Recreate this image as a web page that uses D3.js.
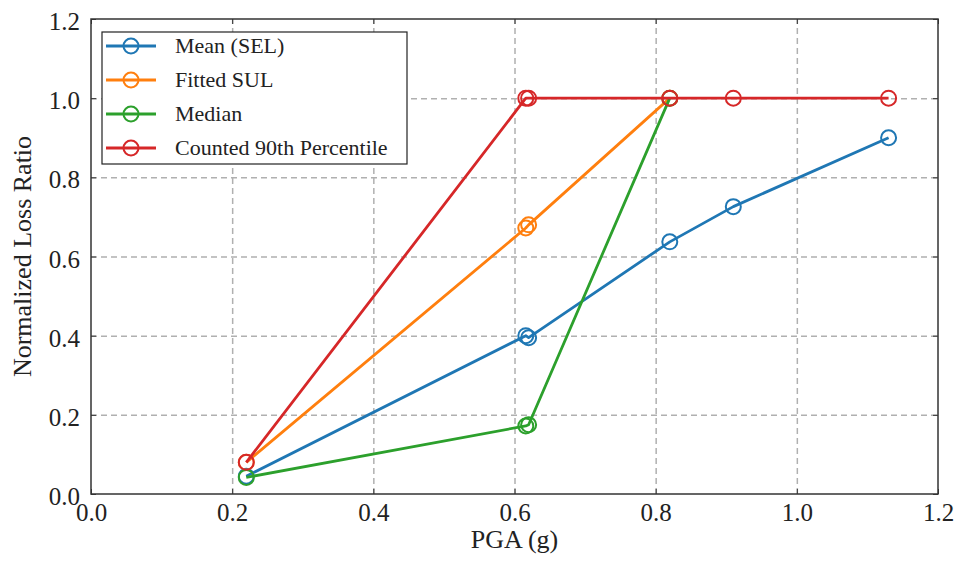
<!DOCTYPE html>
<html>
<head>
<meta charset="utf-8">
<script src="https://cdn.jsdelivr.net/npm/d3@7"></script>
<style>
  body { margin: 0; background: #fff; }
  svg { display: block; }
  svg text { font-family: "Liberation Serif", "DejaVu Serif", serif; }
  .grid line { stroke: #b0b0b0; stroke-width: 1.5; stroke-dasharray: 6,4; }
  .grid path { display: none; }
  .ax path { display: none; }
  .ax line { stroke: #333; stroke-width: 1; }
  .ax text { font-family: "Liberation Serif", serif; font-size: 25px; fill: #222; }
</style>
</head>
<body>
<div id="c"></div>
<script>
"use strict";

// values
const seriesNames = ["Mean (SEL)", "Fitted SUL", "Median", "Counted 90th Percentile"]
const seriesColors = ["#1f77b4", "#ff7f0e", "#2ca02c", "#d62728"]

const meanX = [0.22, 0.616, 0.62, 0.82, 0.91, 1.13]
const meanY = [0.045, 0.40, 0.395, 0.637, 0.726, 0.90]
const fittedX = [0.22, 0.616, 0.62, 0.82]
const fittedY = [0.08, 0.672, 0.68, 1.0]
const medianX = [0.22, 0.616, 0.62, 0.82]
const medianY = [0.042, 0.172, 0.175, 1.0]
const p90X = [0.22, 0.616, 0.62, 0.82, 0.91, 1.13]
const p90Y = [0.08, 1.0, 1.0, 1.0, 1.0, 1.0]

const xTicks = [0.0, 0.2, 0.4, 0.6, 0.8, 1.0, 1.2]
const yTicks = [0.0, 0.2, 0.4, 0.6, 0.8, 1.0, 1.2]

const W = 957, H = 565
const margin = { top: 19, right: 19, bottom: 71, left: 91 }
const width = W - margin.left - margin.right
const height = H - margin.top - margin.bottom

let svg = d3.select('#c').append('svg')
    .attr('width', W).attr('height', H)
let g = svg.append('g')
    .attr('transform', 'translate(' + margin.left + ',' + margin.top + ')')

let xScale = d3.scaleLinear().domain([0, 1.2]).range([0, width])
let yScale = d3.scaleLinear().domain([0, 1.2]).range([height, 0])

// dashed grid
g.append('g').attr('class', 'grid')
    .attr('transform', 'translate(0,' + height + ')')
    .call(d3.axisBottom(xScale).tickValues(xTicks.slice(1, -1)).tickSize(-height).tickFormat(''))
g.append('g').attr('class', 'grid')
    .call(d3.axisLeft(yScale).tickValues(yTicks.slice(1, -1)).tickSize(-width).tickFormat(''))

// axes with inward ticks
const fmt = d3.format('.1f')
g.append('g').attr('class', 'ax')
    .attr('transform', 'translate(0,' + height + ')')
    .call(d3.axisBottom(xScale).tickValues(xTicks).tickSize(-5).tickPadding(9).tickFormat(fmt))
g.append('g').attr('class', 'ax')
    .call(d3.axisLeft(yScale).tickValues(yTicks).tickSize(-5).tickPadding(11).tickFormat(fmt))
    .selectAll('text').attr('dy', '0.42em')
g.append('g').attr('class', 'ax')
    .call(d3.axisTop(xScale).tickValues(xTicks).tickSize(-5).tickFormat(''))
g.append('g').attr('class', 'ax')
    .attr('transform', 'translate(' + width + ',0)')
    .call(d3.axisRight(yScale).tickValues(yTicks).tickSize(-5).tickFormat(''))

// frame
g.append('rect')
    .attr('x', 0).attr('y', 0)
    .attr('width', width).attr('height', height)
    .attr('fill', 'none')
    .attr('stroke', '#333')
    .attr('stroke-width', 1.5)

// series
const series = [
    { xs: meanX, ys: meanY },
    { xs: fittedX, ys: fittedY },
    { xs: medianX, ys: medianY },
    { xs: p90X, ys: p90Y }
]
const line = d3.line().x(d => xScale(d[0])).y(d => yScale(d[1]))

series.forEach((s, i) => {
    let pts = s.xs.map((x, k) => [x, s.ys[k]])
    let sg = g.append('g')
    sg.append('path')
        .datum(pts)
        .attr('fill', 'none')
        .attr('stroke', seriesColors[i])
        .attr('stroke-width', 2.8)
        .attr('stroke-linejoin', 'round')
        .attr('d', line)
    sg.selectAll('circle')
        .data(pts)
        .enter()
        .append('circle')
            .attr('cx', d => xScale(d[0]))
            .attr('cy', d => yScale(d[1]))
            .attr('r', 7.5)
            .attr('fill', 'none')
            .attr('stroke', seriesColors[i])
            .attr('stroke-width', 2)
})

// legend
let legend = svg.append('g').attr('transform', 'translate(102,32)')
legend.append('rect')
    .attr('x', 0).attr('y', 0)
    .attr('width', 305).attr('height', 132)
    .attr('fill', 'white')
    .attr('stroke', '#222')
    .attr('stroke-width', 1.2)
seriesNames.forEach((name, i) => {
    let y = 14 + i * 34
    let item = legend.append('g').attr('transform', 'translate(0,' + y + ')')
    item.append('line')
        .attr('x1', 4).attr('x2', 54)
        .attr('y1', 0).attr('y2', 0)
        .attr('stroke', seriesColors[i])
        .attr('stroke-width', 2.8)
    item.append('circle')
        .attr('cx', 29).attr('cy', 0).attr('r', 7.5)
        .attr('fill', 'none')
        .attr('stroke', seriesColors[i])
        .attr('stroke-width', 2)
    item.append('text')
        .attr('x', 73).attr('y', 7)
        .style('font-family', '"Liberation Serif", serif')
        .style('font-size', '22px')
        .attr('fill', '#222')
        .text(name)
})

// axis titles
svg.append('text')
    .attr('x', margin.left + width / 2).attr('y', 548)
    .attr('text-anchor', 'middle')
    .style('font-family', '"Liberation Serif", serif')
    .style('font-size', '26px')
    .attr('fill', '#222')
    .text('PGA (g)')
svg.append('text')
    .attr('transform', 'translate(31,' + (margin.top + height / 2) + ') rotate(-90)')
    .attr('text-anchor', 'middle')
    .style('font-family', '"Liberation Serif", serif')
    .style('font-size', '26px')
    .attr('fill', '#222')
    .text('Normalized Loss Ratio')
</script>
</body>
</html>
